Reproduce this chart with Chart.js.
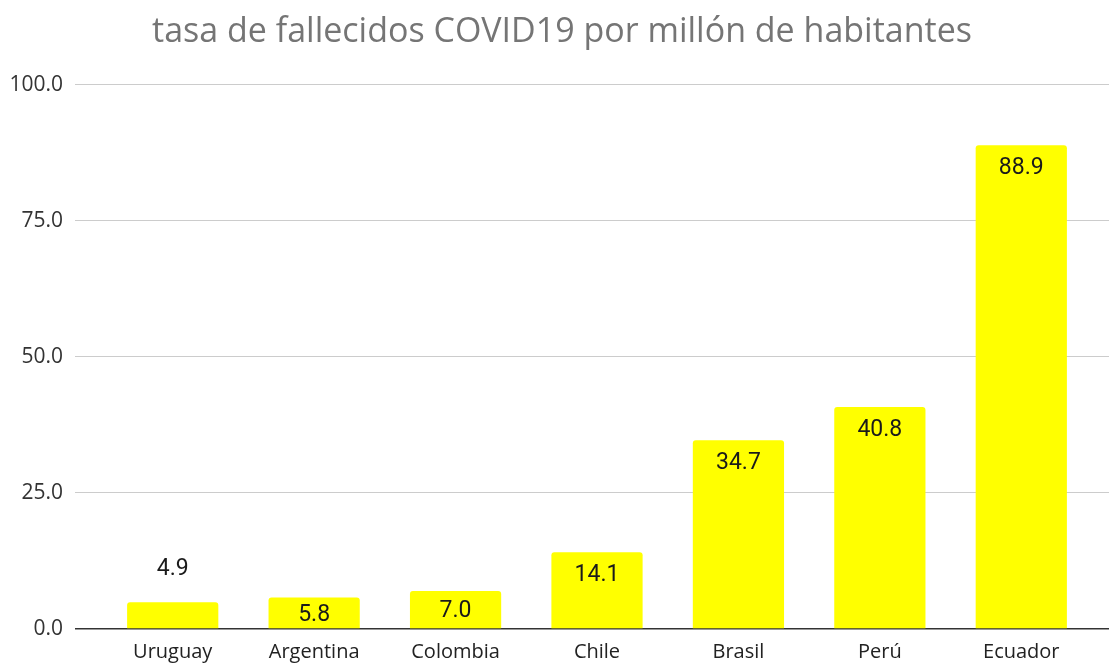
<!DOCTYPE html>
<html>
<head>
<meta charset="utf-8">
<script src="https://cdn.jsdelivr.net/npm/chart.js@4/dist/chart.umd.min.js"></script>
<style>
html,body{margin:0;padding:0;background:#fff;}
#wrap{width:1109px;height:664px;}
</style>
</head>
<body>
<div id="wrap"><canvas id="c" width="1109" height="664"></canvas></div>
<script>
const categories = ["Uruguay", "Argentina", "Colombia", "Chile", "Brasil", "Perú", "Ecuador"];
const values = [4.9, 5.8, 7.0, 14.1, 34.7, 40.8, 88.9];
const yTicks = [0, 25, 50, 75, 100];
const titleText = "tasa de fallecidos COVID19 por millón de habitantes";

const gridColor = (ctx) => (ctx.tick && ctx.tick.value === 0) ? '#333333' : '#cccccc';
const gridWidth = (ctx) => (ctx.tick && ctx.tick.value === 0) ? 1.5 : 1;

const labelPlugin = {
  id: 'barLabels',
  afterDatasetsDraw(chart) {
    const meta = chart.getDatasetMeta(0);
    const ctx = chart.ctx;
    ctx.save();
    ctx.font = '23px Roboto, Arial, sans-serif';
    ctx.fillStyle = '#1a1a1a';
    ctx.textAlign = 'center';
    ctx.textBaseline = 'middle';
    meta.data.forEach((bar, i) => {
      const h = bar.base - bar.y;
      let y;
      if (h < 30) y = bar.y - 33;
      else y = bar.y + Math.min(23, h / 2 + 2);
      ctx.fillText(values[i].toFixed(1), bar.x, y);
    });
    ctx.restore();
  }
};

new Chart(document.getElementById('c'), {
  type: 'bar',
  data: {
    labels: categories,
    datasets: [{
      data: values,
      backgroundColor: '#ffff00',
      borderRadius: {topLeft: 3, topRight: 3, bottomLeft: 0, bottomRight: 0},
      borderSkipped: 'start',
      barPercentage: 0.645,
      categoryPercentage: 1.0
    }]
  },
  options: {
    responsive: false,
    animation: false,
    devicePixelRatio: 1,
    layout: {padding: {left: 0, right: -15, top: 4, bottom: 0}},
    plugins: {
      legend: {display: false},
      tooltip: {enabled: false},
      title: {
        display: true,
        text: titleText,
        color: '#757575',
        font: {family: 'Open Sans, sans-serif', size: 34, weight: 'normal'},
        padding: {top: 8, bottom: 32}
      }
    },
    scales: {
      x: {
        afterFit: (s) => { s.height = 35; },
        grid: {display: false, drawTicks: false},
        border: {display: false},
        ticks: {
          color: '#222222',
          font: {family: 'Open Sans, sans-serif', size: 20},
          padding: 11,
          maxRotation: 0,
          autoSkip: false
        }
      },
      y: {
        position: 'left',
        min: 0,
        max: 100,
        afterBuildTicks: (s) => { s.ticks = yTicks.map(v => ({value: v})); },
        afterFit: (s) => { s.width = 102; },
        grid: {color: gridColor, lineWidth: gridWidth, tickLength: 27, drawTicks: true},
        border: {display: false},
        ticks: {
          color: '#333333',
          font: {family: 'Open Sans, sans-serif', size: 21},
          padding: 12,
          callback: (v) => Number(v).toFixed(1)
        }
      },
      y2: {
        position: 'right',
        min: 0,
        max: 100,
        afterBuildTicks: (s) => { s.ticks = yTicks.map(v => ({value: v})); },
        afterFit: (s) => { s.width = 32; },
        grid: {color: gridColor, lineWidth: gridWidth, tickLength: 17, drawTicks: true, drawOnChartArea: false},
        border: {display: false},
        ticks: {display: false}
      }
    }
  },
  plugins: [labelPlugin]
});
</script>
</body>
</html>
